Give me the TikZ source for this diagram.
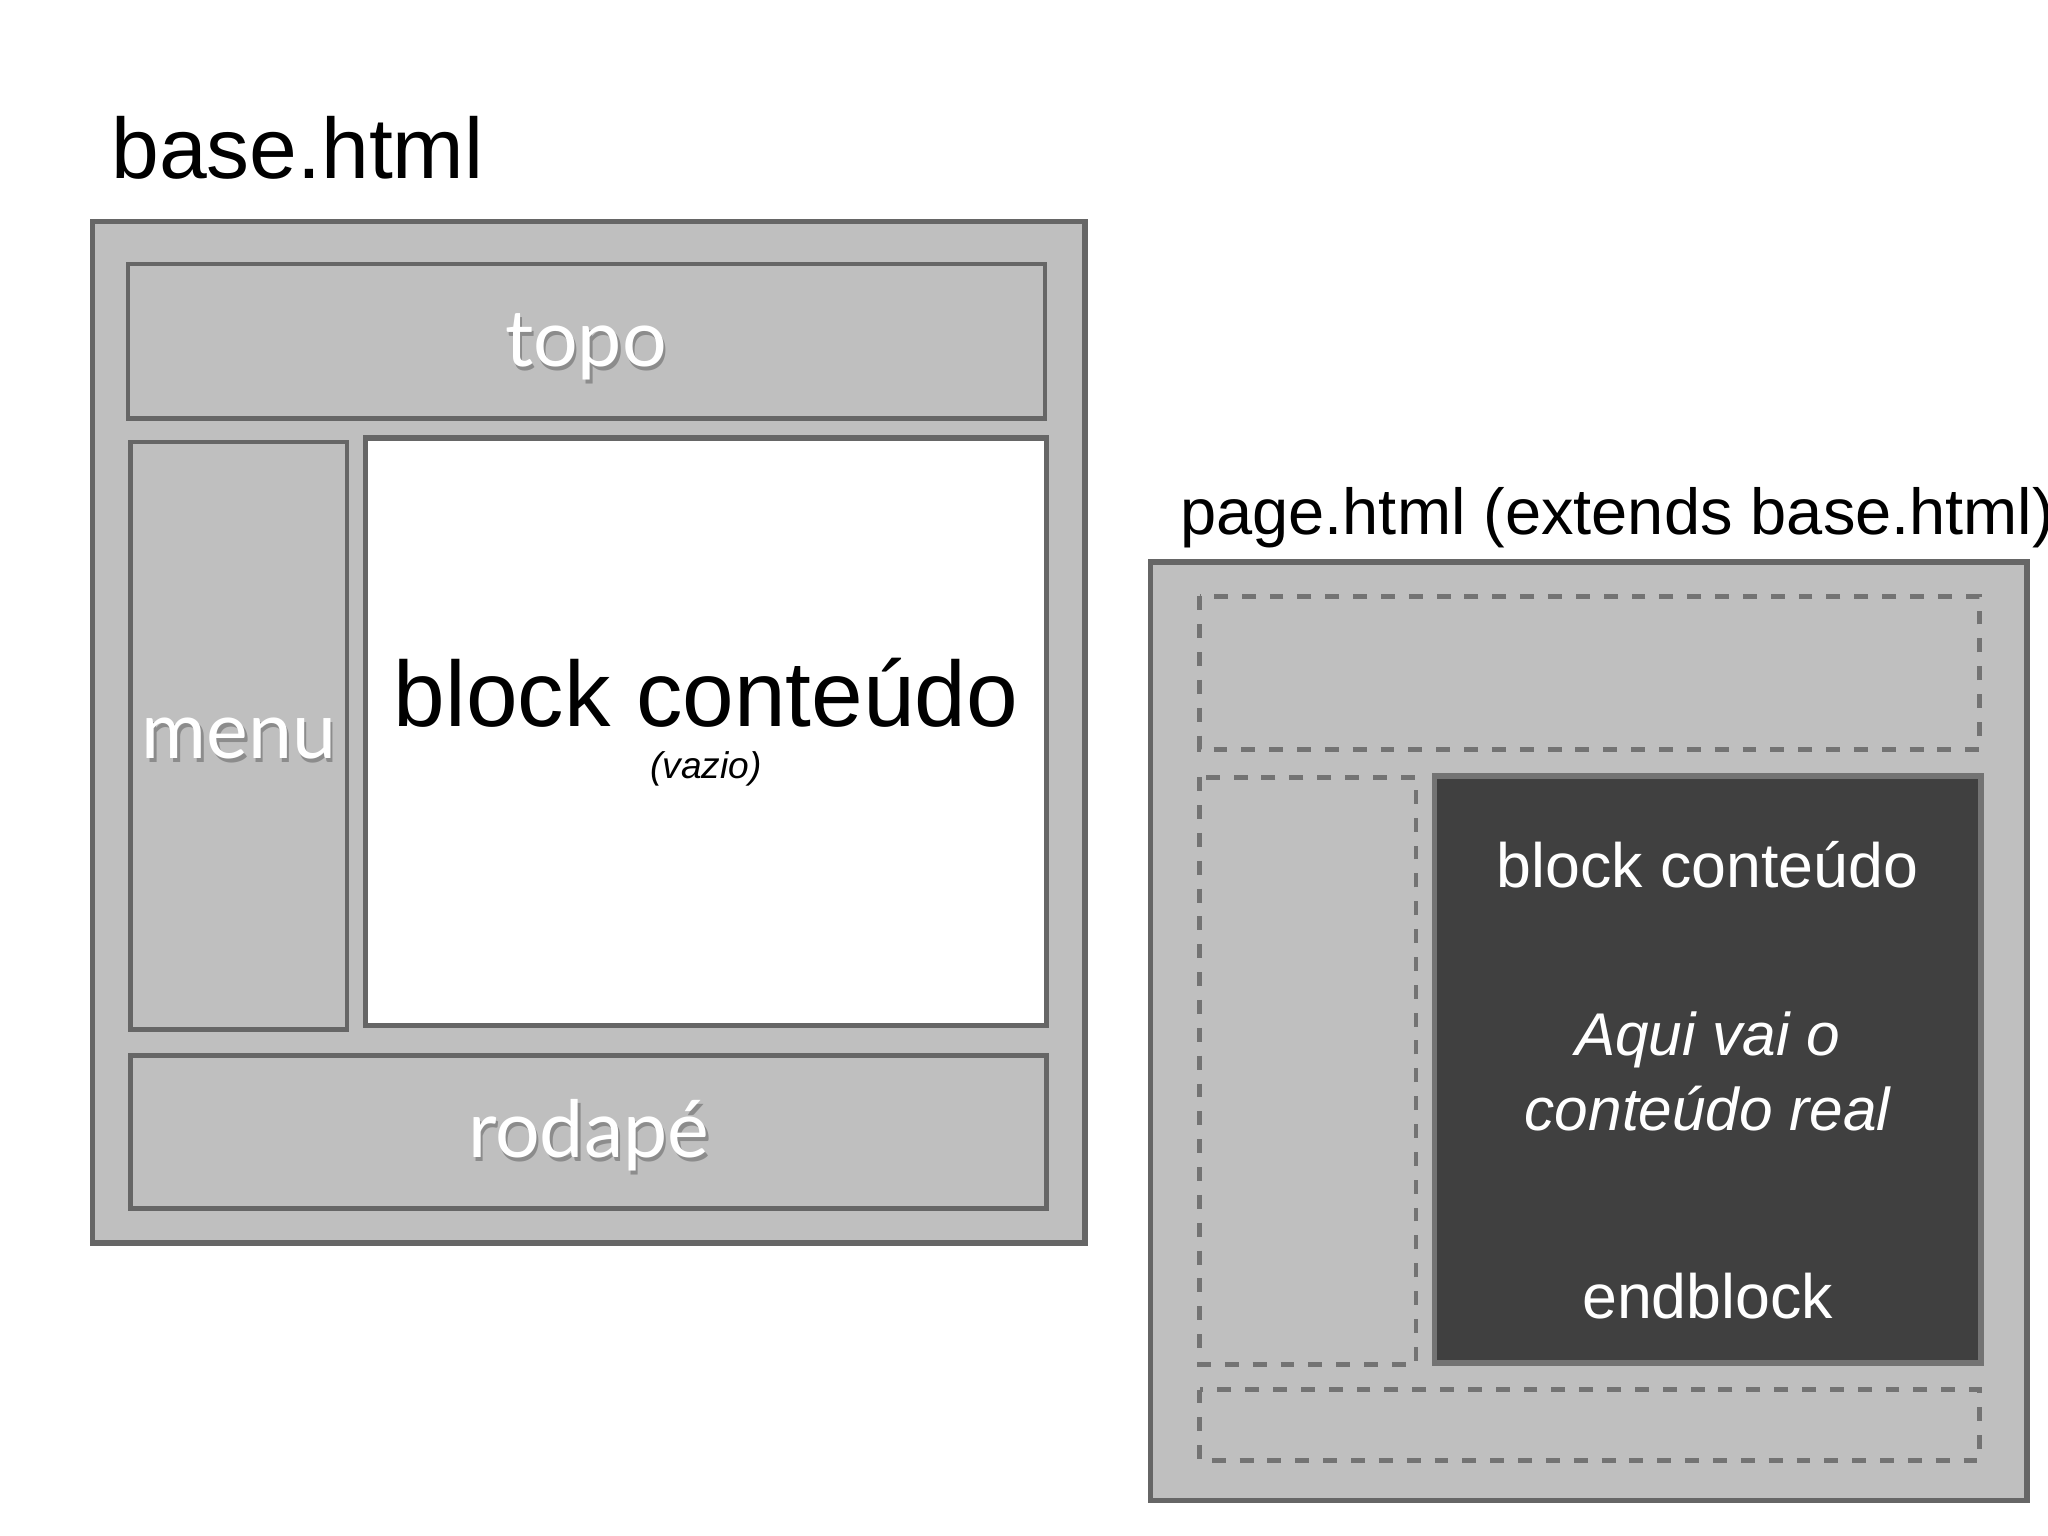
\documentclass[tikz,border=0pt]{standalone}
\usepackage{fontspec}
\setmainfont{Liberation Sans}
\newfontfamily\gill{Lato}
\begin{document}
\begin{tikzpicture}[x=0.01cm,y=-0.01cm,
  box/.style={draw=black!60,fill=black!25,line width=1.2pt},
  dbox/.style={draw=black!55,fill=black!25,dashed,line width=1pt},
  lbl/.style={text=white,font=\gill\fontsize{17}{20}\selectfont},
  sh/.style={text=black!45,font=\gill\fontsize{17}{20}\selectfont}]
\useasboundingbox (0,0) rectangle (1552,1164);
\node[anchor=base west,font=\fontsize{18.5}{22}\selectfont] (t1) at (72,135) {base.html};
\draw[box] (70,168) rectangle (822,942);
\draw[box,line width=1pt] (97,200) rectangle (792,317);
\draw[box,line width=1pt] (99,335) rectangle (263,780);
\draw[draw=black!60,fill=white,line width=1.2pt] (277,332) rectangle (793,777);
\draw[box,line width=1pt] (99,800) rectangle (793,916);
\node[sh] at (446,266) {topo};\node[lbl] (topo) at (444,263) {topo};
\node[sh] at (183,563) {menu};\node[lbl] (menu) at (181,560) {menu};
\node[sh] at (448,863) {rodapé};\node[lbl] (rod) at (446,860) {rodapé};
\node[font=\fontsize{20}{24}\selectfont] (bc) at (535,525) {block conteúdo};
\node[font=\itshape\fontsize{8}{10}\selectfont] (vz) at (535,583) {(vazio)};
\node[anchor=base west,font=\fontsize{14}{17}\selectfont] (t2) at (882,405) {page.html (extends base.html)};
\draw[box] (872,426) rectangle (1536,1137);
\draw[dbox] (909,452) rectangle (1500,568);
\draw[dbox] (909,589) rectangle (1073,1034);
\draw[draw=black!55,fill=black!75,line width=1.2pt] (1087,588) rectangle (1501,1033);
\draw[dbox] (909,1053) rectangle (1500,1107);
\node[text=white,font=\fontsize{13.5}{16}\selectfont] (b2) at (1294,655) {block conteúdo};
\node[text=white,font=\itshape\fontsize{13}{15}\selectfont,align=center] (aq) at (1294,812) {Aqui vai o\\[1pt]conteúdo real};
\node[text=white,font=\fontsize{13.5}{16}\selectfont] (eb) at (1294,982) {endblock};
\end{tikzpicture}
\end{document}
